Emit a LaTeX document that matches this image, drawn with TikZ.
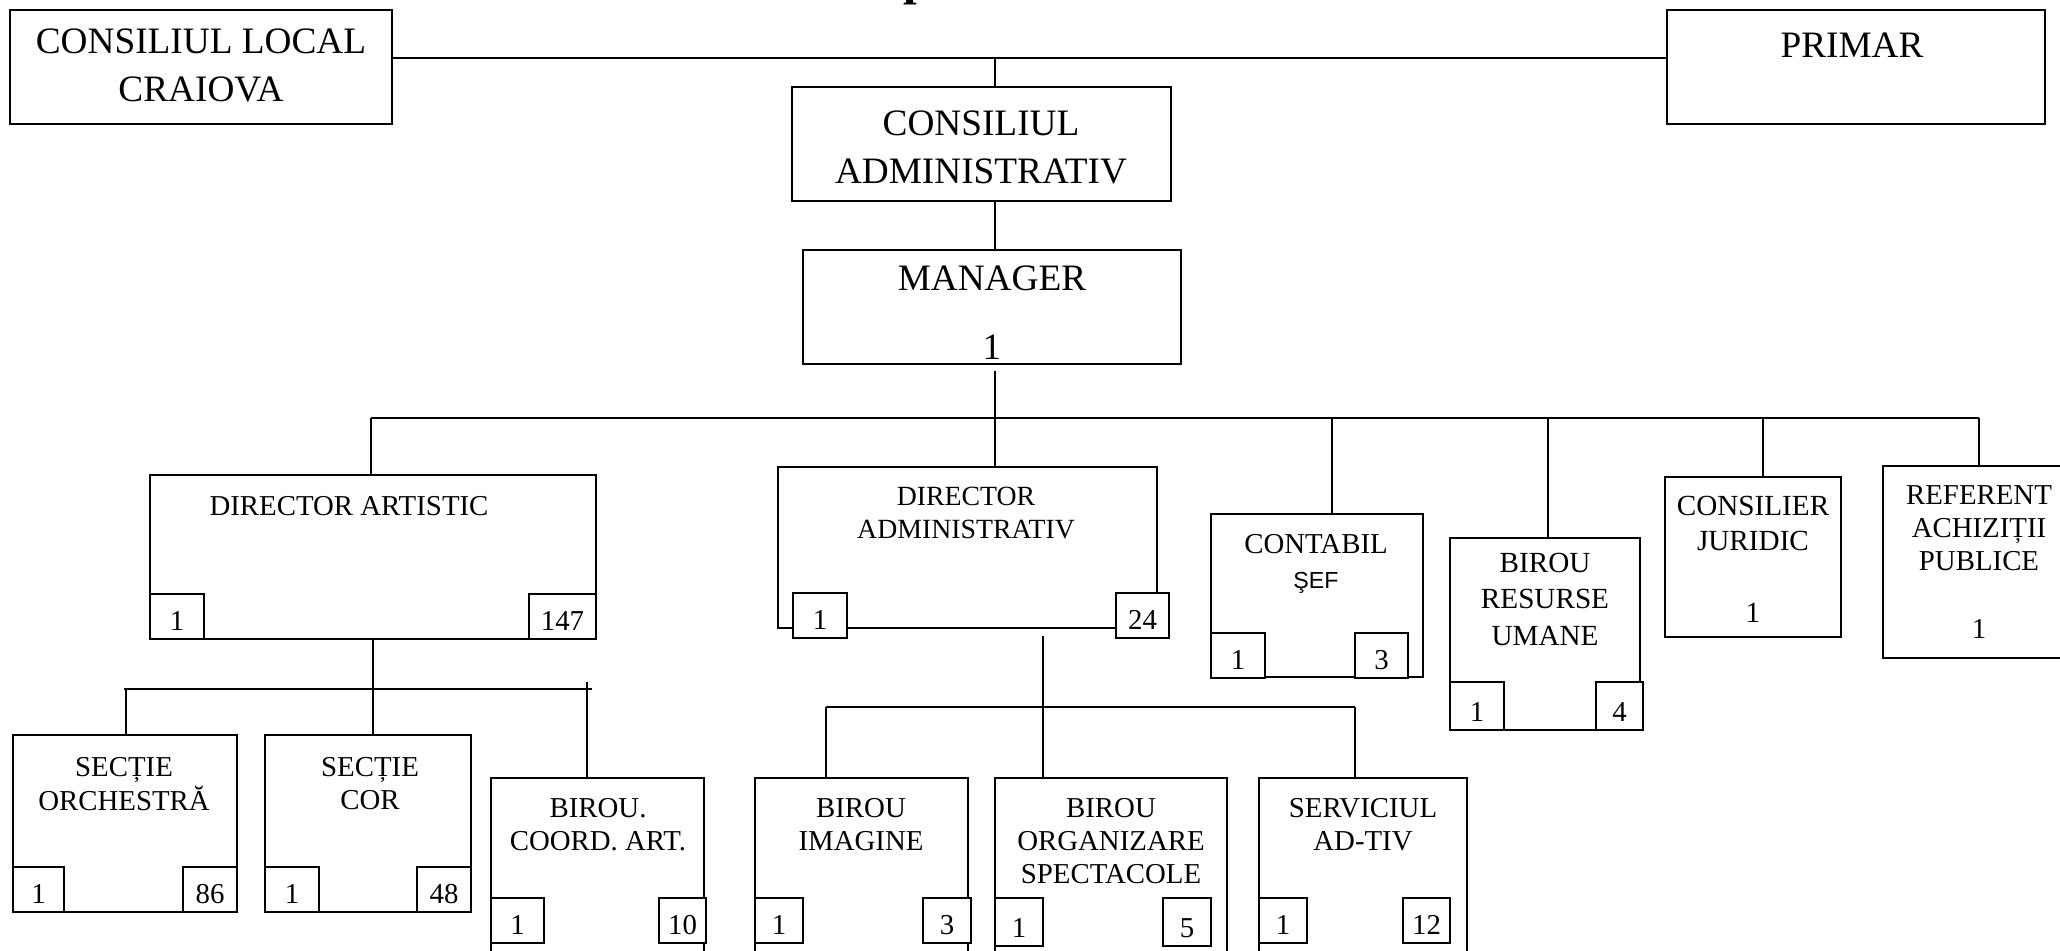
\documentclass[tikz,border=0pt]{standalone}
\usepackage{fontspec}
\setmainfont{Liberation Serif}
\newfontfamily\sefont{Liberation Sans}
\usetikzlibrary{fit}

\newcommand{\bigtxt}{\fontsize{10.6}{13.8}\selectfont}
\newcommand{\smalltxt}{\fontsize{8.2}{9.4}\selectfont}
\newcommand{\rows}[1]{\begin{tabular}[t]{@{}c@{}}#1\end{tabular}}

% box from corner to corner
\newcommand{\orgbox}[5]{\node[unit, fit={(#2,#3) (#4,#5)}] (#1) {};}
% small head-count box with its number
\newcommand{\nrbox}[6]{%
  \node[nr, fit={(#2,#3) (#4,#5)}] (#1) {};
  \node[num] (#1-n) at (#1.south) {#6};}

\begin{document}
\begin{tikzpicture}[
            x = 0.01cm, y = -0.01cm, % one unit = one pixel of the sheet
            line width = 0.6pt, % line style
            font = \smalltxt
        ]

        \tikzstyle{unit}=[draw = black, inner sep = 0pt]
        \tikzstyle{nr}=[draw = black, fill = white, inner sep = 0pt]
        \tikzstyle{txt}=[anchor = base, inner sep = 0pt]
        \tikzstyle{num}=[anchor = base, inner sep = 0pt, yshift = 2.6pt]

        \useasboundingbox (0,0) rectangle (2060,950);
        \clip (0,0) rectangle (2060,950);

        \node[txt, font = \bfseries\fontsize{14}{14}\selectfont] (title) at (917,-6) {p};

        % top level
        \orgbox{cl}{10}{10}{392}{124}
        \orgbox{primar}{1667}{10}{2045}{124}
        \orgbox{cadm}{792}{87}{1171}{201}
        \orgbox{manager}{803}{250}{1181}{364}

        \node[txt, font = \bigtxt] (cl-t) at (201,53) {\rows{CONSILIUL LOCAL\\CRAIOVA}};
        \node[txt, font = \bigtxt] (primar-t) at (1852,57) {PRIMAR};
        \node[txt, font = \bigtxt] (cadm-t) at (981,135) {\rows{CONSILIUL\\ADMINISTRATIV}};
        \node[txt, font = \bigtxt] (manager-t) at (992,290) {MANAGER};
        \node[txt, font = \bigtxt] (manager-n) at (992,359) {1};

        \coordinate (jtop) at (995,58);
        \draw (cl.east |- jtop) -- (primar.west |- jtop);
        \draw (jtop) -- (jtop |- cadm.north);
        \draw (jtop |- cadm.south) -- (jtop |- manager.north);

        % second level
        \orgbox{dart}{150}{475}{596}{639}
        \orgbox{dadm}{778}{467}{1157}{628}
        \orgbox{cont}{1211}{514}{1423}{677}
        \orgbox{bru}{1450}{538}{1640}{730}
        \orgbox{cj}{1665}{477}{1841}{637}
        \orgbox{ref}{1883}{466}{2075}{658}

        \draw[shorten <= 1.7pt] (jtop |- manager.south) -- (jtop |- dadm.north);
        \draw (371,418) -- (1979,418);
        \foreach \n/\x in {dart/371, cont/1332, bru/1548, cj/1763, ref/1979}
            \draw (\x,418) -- (\x,418 |- \n.north);

        \node[txt] (dart-t) at (349,515) {DIRECTOR ARTISTIC};
        \node[txt, font = \fontsize{7.9}{9.4}\selectfont] (dadm-t) at (966,505) {\rows{DIRECTOR\\ADMINISTRATIV}};
        \node[txt, font = \fontsize{8.2}{10}\selectfont] (cont-t) at (1316,553)
            {\rows{CONTABIL\\{\sefont\fontsize{6.6}{10}\selectfont ŞEF}}};
        \node[txt, font = \fontsize{8.3}{10.4}\selectfont] (bru-t) at (1545,572) {\rows{BIROU\\RESURSE\\UMANE}};
        \node[txt, font = \fontsize{8.3}{10}\selectfont] (cj-t) at (1753,515) {\rows{CONSILIER\\JURIDIC}};
        \node[txt, font = \fontsize{8.3}{10}\selectfont] (cj-n) at (1753,622) {1};
        \node[txt] (ref-t) at (1979,504) {\rows{REFERENT\\ACHIZIȚII\\PUBLICE}};
        \node[txt] (ref-n) at (1979,638) {1};

        \nrbox{dart-a}{150}{594}{204}{639}{1}
        \nrbox{dart-b}{529}{594}{596}{639}{147}
        \nrbox{dadm-a}{793}{593}{847}{638}{1}
        \nrbox{dadm-b}{1116}{593}{1169}{638}{24}
        \nrbox{cont-a}{1211}{633}{1265}{678}{1}
        \nrbox{cont-b}{1355}{633}{1408}{678}{3}
        \nrbox{bru-a}{1450}{682}{1504}{730}{1}
        \nrbox{bru-b}{1596}{682}{1643}{730}{4}

        % third level
        \orgbox{orch}{13}{735}{237}{912}
        \orgbox{cor}{265}{735}{471}{912}
        \orgbox{coord}{491}{778}{704}{985}
        \orgbox{imag}{755}{778}{968}{985}
        \orgbox{org}{995}{778}{1227}{985}
        \orgbox{serv}{1259}{778}{1467}{985}

        \coordinate (jart) at (373,689);
        \draw (jart |- dart.south) -- (jart |- cor.north);
        \draw (124,689) -- (592,689);
        \draw (126,689) -- (126,689 |- orch.north);
        \draw (587,682) -- (587,682 |- coord.north);

        \coordinate (jadm) at (1043,707);
        \draw[shorten <= 2pt] (jadm |- dadm.south) -- (jadm |- org.north);
        \draw (826,707) -- (1355,707);
        \draw (826,707) -- (826,707 |- imag.north);
        \draw (1355,707) -- (1355,707 |- serv.north);

        \node[txt] (orch-t) at (124,776) {\rows{SECȚIE\\ORCHESTRĂ}};
        \node[txt] (cor-t) at (370,776) {\rows{SECȚIE\\COR}};
        \node[txt] (coord-t) at (598,817) {\rows{BIROU.\\COORD. ART.}};
        \node[txt] (imag-t) at (861,817) {\rows{BIROU\\IMAGINE}};
        \node[txt] (org-t) at (1111,817) {\rows{BIROU\\ORGANIZARE\\SPECTACOLE}};
        \node[txt] (serv-t) at (1363,817) {\rows{SERVICIUL\\AD-TIV}};

        \nrbox{orch-a}{13}{867}{64}{912}{1}
        \nrbox{orch-b}{183}{867}{237}{912}{86}
        \nrbox{cor-a}{265}{867}{319}{912}{1}
        \nrbox{cor-b}{417}{867}{471}{912}{48}
        \nrbox{coord-a}{491}{898}{544}{943}{1}
        \nrbox{coord-b}{659}{898}{706}{943}{10}
        \nrbox{imag-a}{755}{898}{803}{943}{1}
        \nrbox{imag-b}{923}{898}{971}{943}{3}
        \nrbox{org-a}{995}{898}{1043}{946}{1}
        \nrbox{org-b}{1163}{898}{1211}{946}{5}
        \nrbox{serv-a}{1259}{898}{1307}{943}{1}
        \nrbox{serv-b}{1403}{898}{1450}{943}{12}

    \end{tikzpicture}
\end{document}
